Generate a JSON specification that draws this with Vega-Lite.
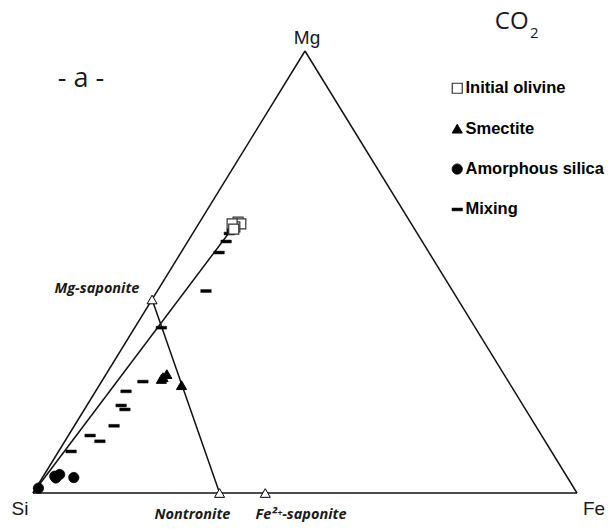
{
  "$schema": "https://vega.github.io/schema/vega-lite/v6.json",
  "width": 544,
  "height": 442,
  "autosize": {"type": "none"},
  "padding": {"left": 33, "top": 51, "right": 31, "bottom": 37},
  "background": "white",
  "config": {"view": {"stroke": null}},
  "datasets": {
    "edges": [
      {"x": 0, "y": 0, "x2": 1, "y2": 0},
      {"x": 1, "y": 0, "x2": 0.5, "y2": 1},
      {"x": 0.5, "y": 1, "x2": 0, "y2": 0},
      {"x": 0, "y": 0, "x2": 0.366, "y2": 0.598},
      {"x": 0.2189, "y": 0.4378, "x2": 0.343, "y2": 0}
    ],
    "points": [
      {"x": 0.366, "y": 0.594, "type": "Mixing"},
      {"x": 0.361, "y": 0.587, "type": "Mixing"},
      {"x": 0.355, "y": 0.569, "type": "Mixing"},
      {"x": 0.342, "y": 0.544, "type": "Mixing"},
      {"x": 0.318, "y": 0.457, "type": "Mixing"},
      {"x": 0.236, "y": 0.374, "type": "Mixing"},
      {"x": 0.202, "y": 0.252, "type": "Mixing"},
      {"x": 0.171, "y": 0.230, "type": "Mixing"},
      {"x": 0.162, "y": 0.198, "type": "Mixing"},
      {"x": 0.169, "y": 0.189, "type": "Mixing"},
      {"x": 0.149, "y": 0.152, "type": "Mixing"},
      {"x": 0.105, "y": 0.130, "type": "Mixing"},
      {"x": 0.123, "y": 0.117, "type": "Mixing"},
      {"x": 0.070, "y": 0.094, "type": "Mixing"},
      {"x": 0.377, "y": 0.613, "type": "Initial olivine"},
      {"x": 0.382, "y": 0.609, "type": "Initial olivine"},
      {"x": 0.371, "y": 0.602, "type": "Initial olivine"},
      {"x": 0.366, "y": 0.609, "type": "Initial olivine"},
      {"x": 0.369, "y": 0.597, "type": "Initial olivine"},
      {"x": 0.236, "y": 0.258, "type": "Smectite"},
      {"x": 0.239, "y": 0.262, "type": "Smectite"},
      {"x": 0.246, "y": 0.269, "type": "Smectite"},
      {"x": 0.273, "y": 0.244, "type": "Smectite"},
      {"x": 0.010, "y": 0.011, "type": "Amorphous silica"},
      {"x": 0.040, "y": 0.038, "type": "Amorphous silica"},
      {"x": 0.049, "y": 0.042, "type": "Amorphous silica"},
      {"x": 0.042, "y": 0.034, "type": "Amorphous silica"},
      {"x": 0.075, "y": 0.035, "type": "Amorphous silica"}
    ],
    "endmembers": [
      {"x": 0.2189, "y": 0.4378, "name": "Mg-saponite"},
      {"x": 0.343, "y": 0, "name": "Nontronite"},
      {"x": 0.427, "y": 0, "name": "Fe2+-saponite"}
    ],
    "vertexLabels": [
      {"x": 0.5037, "y": 1.0294, "label": "Mg"},
      {"x": -0.0239, "y": -0.036, "label": "Si"},
      {"x": 1.0312, "y": -0.036, "label": "Fe"}
    ],
    "mineralLabels": [
      {"x": 0.1176, "y": 0.4615, "label": "Mg-saponite"},
      {"x": 0.2932, "y": -0.0498, "label": "Nontronite"},
      {"x": 0.4926, "y": -0.0498, "label": "Fe²⁺-saponite"}
    ],
    "coLabel": [
      {"x": 0.849, "y": 1.0645, "label": "CO"}
    ],
    "panelLabel": [
      {"x": 0.0882, "y": 0.9186, "label": "- a -"}
    ],
    "subLabels": [
      {"x": 0.9136, "y": 1.040, "label": "2"}
    ]
  },
  "layer": [
    {
      "data": {"name": "edges"},
      "mark": {"type": "rule", "color": "#111111", "strokeWidth": 1.5},
      "encoding": {
        "x": {"field": "x", "type": "quantitative", "scale": {"domain": [0, 1], "nice": false, "zero": false}, "axis": null},
        "y": {"field": "y", "type": "quantitative", "scale": {"domain": [0, 1], "nice": false, "zero": false}, "axis": null},
        "x2": {"field": "x2"},
        "y2": {"field": "y2"}
      }
    },
    {
      "data": {"name": "points"},
      "mark": {"type": "point", "opacity": 1},
      "encoding": {
        "x": {"field": "x", "type": "quantitative", "scale": {"domain": [0, 1], "nice": false, "zero": false}, "axis": null},
        "y": {"field": "y", "type": "quantitative", "scale": {"domain": [0, 1], "nice": false, "zero": false}, "axis": null},
        "shape": {
          "field": "type", "type": "nominal",
          "scale": {"domain": ["Initial olivine", "Smectite", "Amorphous silica", "Mixing"], "range": ["square", "triangle-up", "circle", "M-1,-0.27L1,-0.27L1,0.27L-1,0.27Z"]},
          "legend": {
            "orient": "none", "legendX": 416, "legendY": 29, "title": null, "padding": 0,
            "labelFont": "Liberation Sans", "labelFontWeight": "bold", "labelFontSize": 16.5,
            "labelColor": "black", "labelOffset": 0, "rowPadding": 23.4, "labelLimit": 300
          }
        },
        "fill": {
          "field": "type", "type": "nominal",
          "scale": {"domain": ["Initial olivine", "Smectite", "Amorphous silica", "Mixing"], "range": ["white", "black", "black", "black"]}
        },
        "stroke": {
          "field": "type", "type": "nominal",
          "scale": {"domain": ["Initial olivine", "Smectite", "Amorphous silica", "Mixing"], "range": ["#333333", "black", "black", "black"]}
        },
        "size": {
          "field": "type", "type": "nominal",
          "scale": {"domain": ["Initial olivine", "Smectite", "Amorphous silica", "Mixing"], "range": [100, 110, 75, 81]}
        },
        "strokeWidth": {
          "field": "type", "type": "nominal",
          "scale": {"domain": ["Initial olivine", "Smectite", "Amorphous silica", "Mixing"], "range": [1.2, 0.5, 0.5, 0]}
        }
      }
    },
    {
      "data": {"name": "endmembers"},
      "mark": {"type": "point", "shape": "triangle-up", "size": 100, "filled": true, "fill": "white", "stroke": "black", "strokeWidth": 1, "opacity": 1},
      "encoding": {
        "x": {"field": "x", "type": "quantitative", "scale": {"domain": [0, 1], "nice": false, "zero": false}, "axis": null},
        "y": {"field": "y", "type": "quantitative", "scale": {"domain": [0, 1], "nice": false, "zero": false}, "axis": null}
      }
    },
    {
      "data": {"name": "vertexLabels"},
      "mark": {"type": "text", "font": "Liberation Sans", "fontSize": 19, "color": "#1a1a1a", "align": "center", "baseline": "middle"},
      "encoding": {
        "x": {"field": "x", "type": "quantitative", "scale": {"domain": [0, 1], "nice": false, "zero": false}, "axis": null},
        "y": {"field": "y", "type": "quantitative", "scale": {"domain": [0, 1], "nice": false, "zero": false}, "axis": null},
        "text": {"field": "label"}
      }
    },
    {
      "data": {"name": "mineralLabels"},
      "mark": {"type": "text", "font": "Open Sans", "fontSize": 14.5, "fontWeight": "bold", "fontStyle": "italic", "color": "#1a1a1a", "align": "center", "baseline": "middle"},
      "encoding": {
        "x": {"field": "x", "type": "quantitative", "scale": {"domain": [0, 1], "nice": false, "zero": false}, "axis": null},
        "y": {"field": "y", "type": "quantitative", "scale": {"domain": [0, 1], "nice": false, "zero": false}, "axis": null},
        "text": {"field": "label"}
      }
    },
    {
      "data": {"name": "coLabel"},
      "mark": {"type": "text", "font": "Open Sans", "fontSize": 24, "color": "#1a1a1a", "align": "left", "baseline": "middle"},
      "encoding": {
        "x": {"field": "x", "type": "quantitative", "scale": {"domain": [0, 1], "nice": false, "zero": false}, "axis": null},
        "y": {"field": "y", "type": "quantitative", "scale": {"domain": [0, 1], "nice": false, "zero": false}, "axis": null},
        "text": {"field": "label"}
      }
    },
    {
      "data": {"name": "panelLabel"},
      "mark": {"type": "text", "font": "Open Sans", "fontSize": 27, "color": "#1a1a1a", "align": "center", "baseline": "alphabetic"},
      "encoding": {
        "x": {"field": "x", "type": "quantitative", "scale": {"domain": [0, 1], "nice": false, "zero": false}, "axis": null},
        "y": {"field": "y", "type": "quantitative", "scale": {"domain": [0, 1], "nice": false, "zero": false}, "axis": null},
        "text": {"field": "label"}
      }
    },
    {
      "data": {"name": "subLabels"},
      "mark": {"type": "text", "font": "Open Sans", "fontSize": 15, "color": "#1a1a1a", "align": "left", "baseline": "middle"},
      "encoding": {
        "x": {"field": "x", "type": "quantitative", "scale": {"domain": [0, 1], "nice": false, "zero": false}, "axis": null},
        "y": {"field": "y", "type": "quantitative", "scale": {"domain": [0, 1], "nice": false, "zero": false}, "axis": null},
        "text": {"field": "label"}
      }
    }
  ]
}
